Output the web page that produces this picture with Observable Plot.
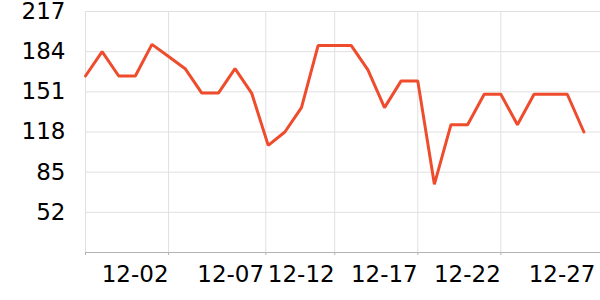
<!DOCTYPE html>
<html><head><meta charset="utf-8">
<script src="https://cdn.jsdelivr.net/npm/d3@7"></script>
<script src="https://cdn.jsdelivr.net/npm/@observablehq/plot@0.6"></script>
<style>body{margin:0;background:#fff} svg{display:block}</style>
</head><body><div id="chart"></div>
<script>
const dates = ["12-01","12-02","12-03","12-04","12-05","12-06","12-07","12-08","12-09","12-10","12-11","12-12","12-13","12-14","12-15","12-16","12-17","12-18","12-19","12-20","12-21","12-22","12-23","12-24","12-25","12-26","12-27","12-28","12-29","12-30","12-31"];
const values = [164,184,164,164,190,180,170,150,150,170,150,107,118,138,189,189,189,169,138,160,160,75,124,124,149,149,124,149,149,149,118];
const yTicks = [52,85,118,151,184,217];
const xGridAt = [0,5,10.85,15,20,25];
const xLabels = ["12-02","12-07","12-12","12-17","12-22","12-27"];
const xLabelAt = [5,10.75,15,20,25,30.7];

const data = values.map((v,i)=>({i, date: dates[i], value: v}));

const chart = Plot.plot({
  width: 600, height: 300,
  marginLeft: 85, marginRight: 0, marginTop: 11, marginBottom: 48,
  style: {fontFamily: "DejaVu Sans", fontSize: "23px", background: "#fff", color: "#000"},
  x: {domain: [0, 31], axis: null},
  y: {domain: [19, 217], axis: null},
  marks: [
    Plot.gridY(yTicks, {stroke: "#e0e0e0", strokeOpacity: 1}),
    Plot.gridX(xGridAt, {stroke: "#e0e0e0", strokeOpacity: 1}),
    Plot.axisX(xGridAt, {tickFormat: () => "", tickSize: 3, stroke: "#b4b4b4", label: null}),
    Plot.ruleY([19], {stroke: "#b4b4b4"}),
    Plot.axisX(xLabelAt, {tickSize: 0, tickPadding: 13, textAnchor: "end", fontSize: 23, fill: "#000", label: null,
      tickFormat: d => xLabels[xLabelAt.indexOf(d)]}),
    Plot.axisY(yTicks, {tickSize: 0, tickPadding: 20, fontSize: 23, fill: "#000", label: null}),
    Plot.line(data, {x: "i", y: "value", stroke: "#ee4c2c", strokeWidth: 3, strokeLinejoin: "miter"})
  ]
});
document.getElementById("chart").append(chart);
</script>
</body></html>
